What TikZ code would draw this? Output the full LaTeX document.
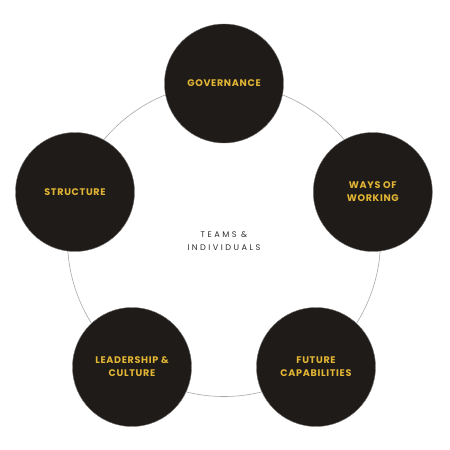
\documentclass[tikz,border=0pt]{standalone}
\usepackage{fontspec}
\newfontfamily\labelfont[LetterSpace=7]{Poppins}
\newfontfamily\centerfont[LetterSpace=30]{Poppins}
\definecolor{disc}{HTML}{1E1B19}
\definecolor{gold}{HTML}{E2B534}
\definecolor{ring}{HTML}{A8A8A8}
\definecolor{midtext}{HTML}{2E2E2E}
\tikzset{
  topic/.style={circle, fill=disc, draw=disc!60, line width=0.4pt, minimum size=119pt, inner sep=0pt,
    text=gold, align=center, font=\labelfont\bfseries\fontsize{9.6}{13}\selectfont},
  hub/.style={align=center, text=midtext, font=\centerfont\fontsize{8.2}{13}\selectfont},
  ringline/.style={draw=ring, line width=0.6pt}
}
\begin{document}
\begin{tikzpicture}[x=1pt,y=-1pt]
\useasboundingbox[fill=white] (0,0) rectangle (450,450);
\coordinate (c) at (224,240);
\draw[ringline] (c) circle[radius=156.5];
\node[hub] (center) at (224,241.5) {TEAMS \&\\INDIVIDUALS};
\node[topic] (gov) at (224,83.5) {GOVERNANCE};
\node[topic] (ways) at (372.8,192) {WAYS OF\\WORKING};
\node[topic] (struct) at (75,192) {STRUCTURE};
\node[topic] (lead) at (132,367) {LEADERSHIP \&\\CULTURE};
\node[topic] (future) at (316,367) {FUTURE\\CAPABILITIES};
\end{tikzpicture}
\end{document}
